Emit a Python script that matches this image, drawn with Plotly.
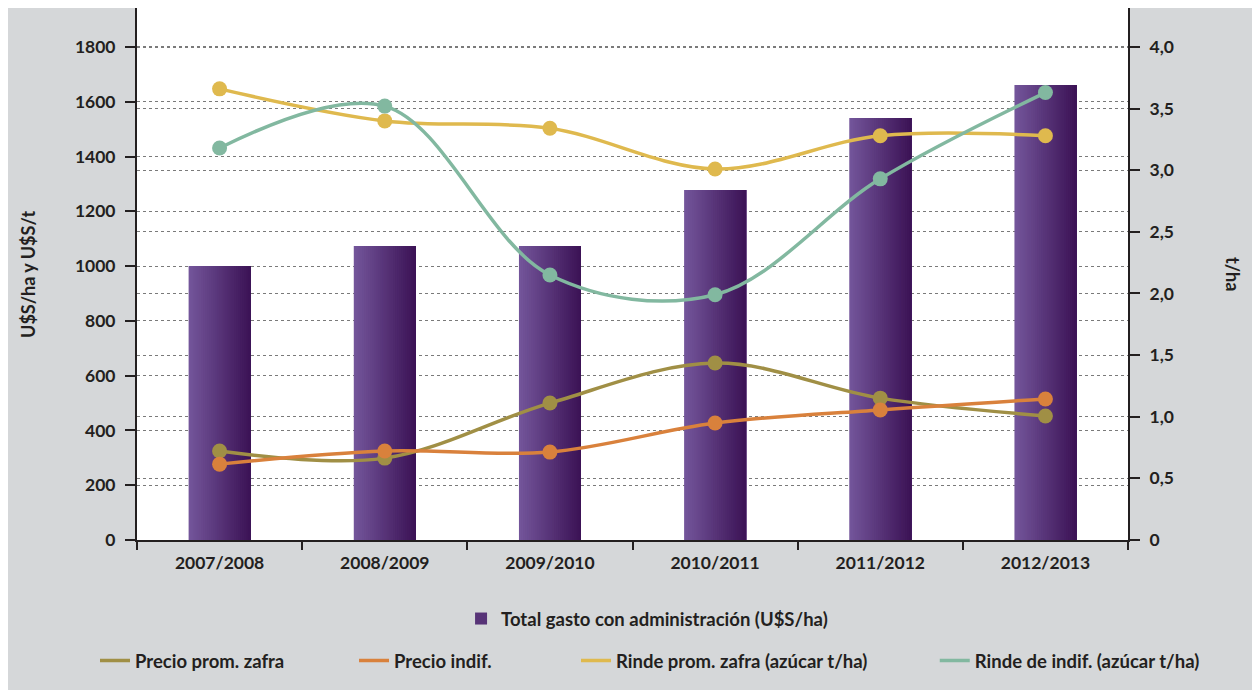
import plotly.graph_objects as go

categories = ["2007/2008", "2008/2009", "2009/2010", "2010/2011", "2011/2012", "2012/2013"]
total_gasto = [1000, 1073, 1073, 1278, 1541, 1661]
precio_prom_zafra = [325, 299, 500, 646, 518, 453]
precio_indif = [277, 325, 321, 427, 475, 515]
rinde_prom_zafra = [3.66, 3.40, 3.34, 3.01, 3.28, 3.28]
rinde_indif = [3.18, 3.52, 2.15, 1.99, 2.93, 3.63]

FONT = "Lato"
TXT = "#231f20"

fig = go.Figure()

# gradient bars built from overlaid slices (each later slice covers the rest of the bar)
n_slices = 30
bar_w = 0.375
c0 = (0x73, 0x55, 0x9a)
c1 = (0x3c, 0x13, 0x56)
sw = bar_w / n_slices
for i in range(n_slices):
    t = i / (n_slices - 1)
    col = "rgb(%d,%d,%d)" % tuple(round(a + (b - a) * t) for a, b in zip(c0, c1))
    fig.add_trace(go.Bar(
        x=categories, y=total_gasto,
        width=bar_w - i * sw, offset=-bar_w / 2 + i * sw,
        marker=dict(color=col, line=dict(width=0)),
        name="Total gasto con administración (U$S/ha)",
        legendgroup="bars", showlegend=(i == n_slices // 2),
        legend="legend", hoverinfo="skip" if i != n_slices // 2 else None,
    ))

lines = [
    ("Precio prom. zafra", precio_prom_zafra, "#a08f45", "y", "legend2"),
    ("Precio indif.", precio_indif, "#d9813c", "y", "legend3"),
    ("Rinde prom. zafra (azúcar t/ha)", rinde_prom_zafra, "#dfb94e", "y2", "legend4"),
    ("Rinde de indif. (azúcar t/ha)", rinde_indif, "#82b8a0", "y2", "legend5"),
]
for name, vals, col, ax, lg in lines:
    fig.add_trace(go.Scatter(
        x=categories, y=vals, name=name, yaxis=ax,
        mode="lines",
        line=dict(color=col, width=3.5, shape="spline", smoothing=1.0),
        legend=lg, legendgroup=name,
    ))
    fig.add_trace(go.Scatter(
        x=categories, y=vals, name=name, yaxis=ax,
        mode="markers", marker=dict(color=col, size=15),
        showlegend=False, legendgroup=name,
    ))

TICK = dict(family=FONT, size=17.5, color=TXT, weight="bold")
LEG = dict(family=FONT, size=18.5, color=TXT, weight="bold")
row1 = -0.1485
row2 = -0.2274


def leg(x, y):
    return dict(orientation="h", x=x, xanchor="left", y=y, yanchor="middle",
                font=LEG, bgcolor="rgba(0,0,0,0)", borderwidth=0)


fig.update_layout(
    width=1260, height=690,
    margin=dict(l=129, r=140, t=0, b=158),
    paper_bgcolor="#d5d7d9",
    plot_bgcolor="#ffffff",
    barmode="overlay",
    font=dict(family=FONT, size=15, color=TXT),
    xaxis=dict(
        type="category", showgrid=False, showline=True, linecolor="#231f20", linewidth=2,
        ticks="outside", tickson="boundaries", ticklen=8, tickwidth=2, tickcolor="#231f20",
        tickfont=TICK, ticklabelstandoff=6,
        range=[-0.5, 5.5],
    ),
    yaxis=dict(
        range=[0, 1942.4], tickvals=[0, 200, 400, 600, 800, 1000, 1200, 1400, 1600, 1800],
        showline=True, linecolor="#231f20", linewidth=2,
        ticks="outside", ticklen=10, tickwidth=2, tickcolor="#231f20",
        tickfont=TICK, ticklabelstandoff=6,
        showgrid=True, gridcolor="#7a7a7a", griddash="dot", gridwidth=1,
        zeroline=False,
    ),
    yaxis2=dict(
        range=[0, 4.316], overlaying="y", side="right",
        tickvals=[0, 0.5, 1.0, 1.5, 2.0, 2.5, 3.0, 3.5, 4.0],
        ticktext=["0", "0,5", "1,0", "1,5", "2,0", "2,5", "3,0", "3,5", "4,0"],
        showline=True, linecolor="#231f20", linewidth=2,
        ticks="outside", ticklen=10, tickwidth=2, tickcolor="#231f20",
        tickfont=TICK, ticklabelstandoff=6,
        showgrid=True, gridcolor="#7a7a7a", griddash="dot", gridwidth=1,
        zeroline=False,
    ),
    legend=leg(0.327, row1),
    legend2=leg(-0.0424, row2),
    legend3=leg(0.219, row2),
    legend4=leg(0.443, row2),
    legend5=leg(0.805, row2),
    annotations=[
        dict(text="U$S/ha y U$S/t", xref="paper", yref="paper", x=-0.11, y=0.5,
             textangle=-90, showarrow=False, xanchor="center", yanchor="middle",
             font=dict(family=FONT, size=18, color=TXT, weight="bold")),
        dict(text="t/ha", xref="paper", yref="paper", x=1.106, y=0.5,
             textangle=90, showarrow=False, xanchor="center", yanchor="middle",
             font=dict(family=FONT, size=18, color=TXT, weight="bold")),
    ],
)

fig.write_html("out.html")
